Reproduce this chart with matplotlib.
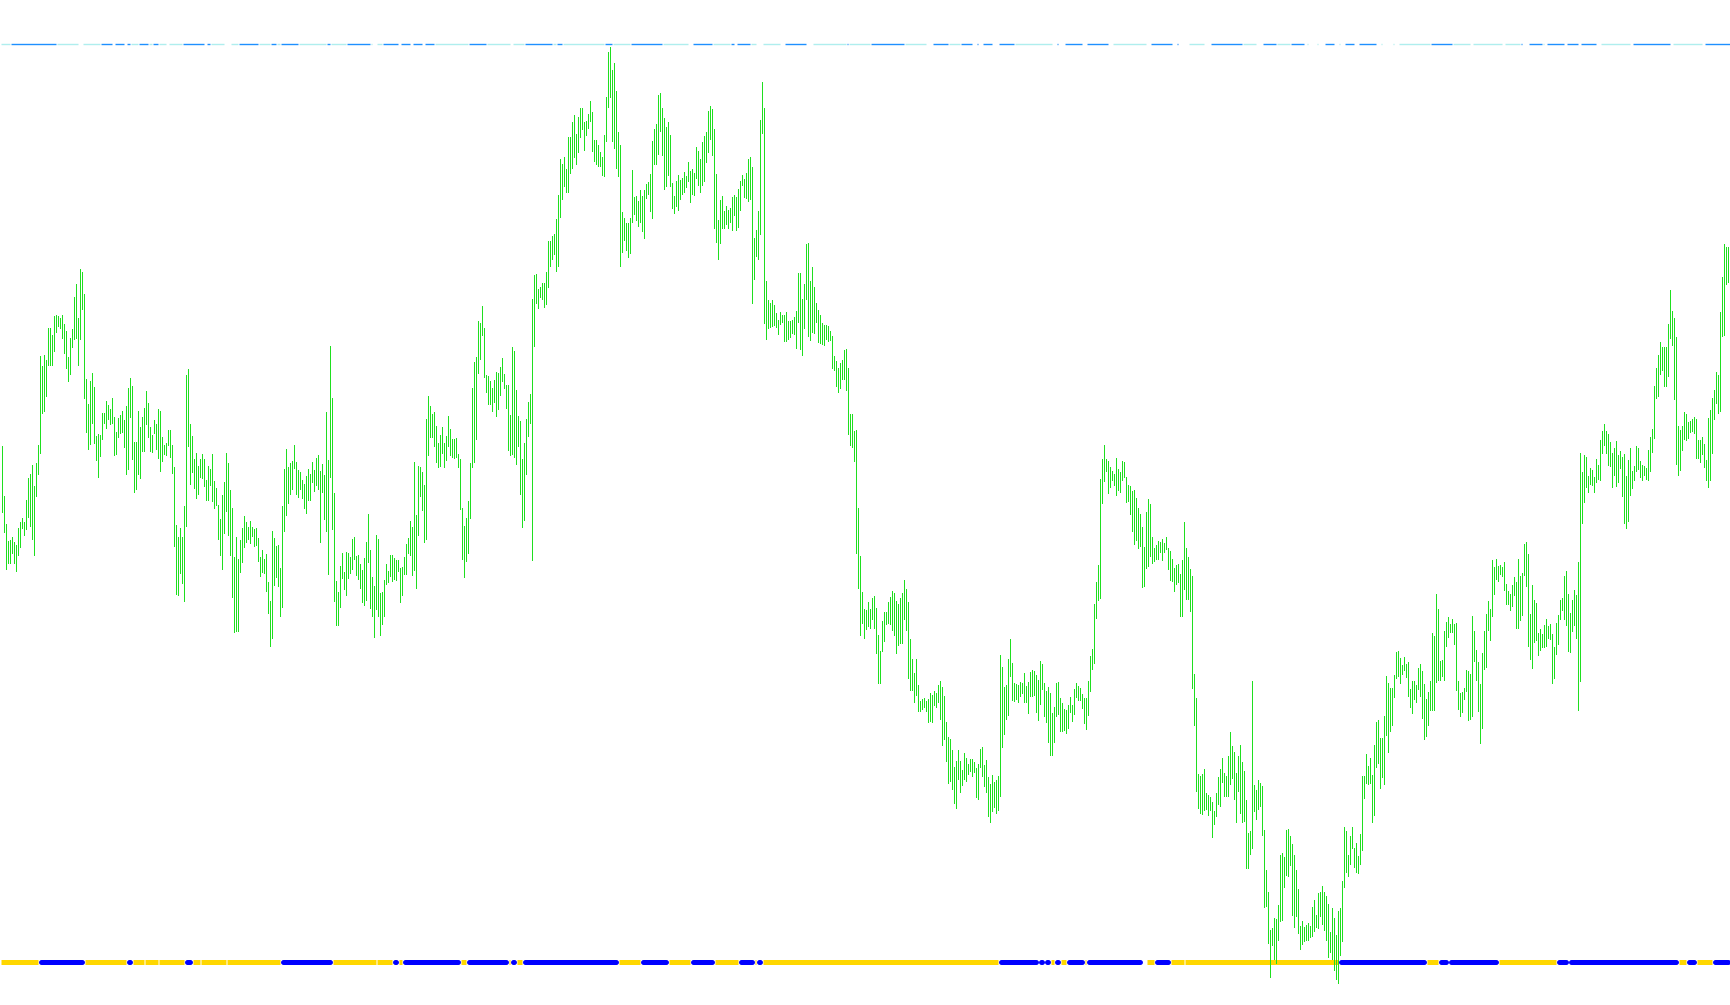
import matplotlib
matplotlib.use('Agg')
import matplotlib.pyplot as plt
import numpy as np

# bar highs / lows (price points), one value per bar, left to right
highs = [
    1677, 1527, 1443, 1392, 1395, 1404, 1389, 1380, 1432, 1449,
    1462, 1449, 1515, 1581, 1593, 1620, 1557, 1627, 1680, 1946,
    1917, 1950, 1936, 2031, 2031, 2010, 2067, 2070, 2067, 2061,
    2070, 2043, 2023, 1944, 2001, 2028, 2125, 2163, 2061, 2207,
    2199, 2133, 1878, 1803, 1872, 1896, 1854, 1707, 1714, 1710,
    1776, 1776, 1812, 1800, 1788, 1821, 1764, 1719, 1761, 1770,
    1782, 1755, 1798, 1851, 1881, 1857, 1689, 1689, 1782, 1734,
    1764, 1791, 1842, 1806, 1734, 1710, 1755, 1743, 1788, 1782,
    1704, 1680, 1687, 1725, 1725, 1680, 1614, 1440, 1404, 1431,
    1404, 1497, 1890, 1908, 1743, 1707, 1638, 1656, 1617, 1638,
    1653, 1638, 1575, 1617, 1608, 1653, 1572, 1551, 1500, 1458,
    1530, 1569, 1656, 1626, 1545, 1491, 1344, 1404, 1338, 1395,
    1431, 1467, 1449, 1434, 1452, 1434, 1428, 1431, 1401, 1344,
    1365, 1338, 1353, 1269, 1212, 1422, 1401, 1377, 1380, 1311,
    1497, 1608, 1668, 1614, 1626, 1632, 1680, 1629, 1605, 1599,
    1575, 1563, 1587, 1608, 1593, 1629, 1605, 1641, 1650, 1602,
    1623, 1590, 1779, 1635, 1977, 1821, 1536, 1272, 1239, 1317,
    1356, 1299, 1359,
    1355, 1344, 1397, 1404, 1348, 1351, 1323, 1306, 1341, 1390,
    1474, 1365, 1285, 1257, 1411, 1397, 1236, 1239, 1274, 1323,
    1302, 1351, 1351, 1341, 1334, 1336, 1312, 1313, 1344, 1383,
    1400, 1453, 1435, 1629, 1470, 1617, 1615, 1600, 1560, 1759,
    1827, 1797, 1773, 1780, 1738, 1687, 1710, 1734, 1685, 1708,
    1767, 1728, 1699, 1697, 1701, 1654, 1637, 1491, 1438, 1461,
    1512, 1627, 1851, 1929, 1944, 2053, 2047, 2097, 2032, 1890,
    1887, 1872, 1850, 1875, 1900, 1896, 1914, 1942, 1893, 1859,
    1859, 1770, 1974, 1963, 1845, 1767, 1753, 1638, 1686, 1759,
    1809, 1833, 2118, 2190, 2194, 2148, 2154, 2166, 2166, 2200,
    2291, 2293, 2306, 2313, 2358, 2431, 2538, 2522, 2545, 2508,
    2604, 2603, 2650, 2671, 2613, 2664, 2691, 2691, 2648, 2653,
    2672, 2711, 2679, 2596, 2594, 2581, 2559, 2545, 2611, 2723,
    2859, 2875, 2805, 2826, 2743, 2620, 2579, 2379, 2361, 2347,
    2347, 2361, 2504, 2424, 2428, 2412, 2445, 2427, 2446, 2463,
    2469, 2494, 2592, 2627, 2642, 2729, 2736, 2692, 2662, 2635,
    2648, 2610, 2466, 2427, 2473, 2490, 2475, 2480, 2499, 2487,
    2529, 2502, 2509,
    2495, 2574, 2562, 2537, 2588, 2607, 2619, 2681, 2697, 2689,
    2628, 2492, 2356, 2415, 2427, 2382, 2398, 2386, 2391, 2424,
    2431, 2424, 2447, 2471, 2489, 2478, 2495, 2537, 2545, 2514,
    2300, 2324, 2382, 2655, 2769, 2692, 2173, 2114, 2107, 2114,
    2100, 2077, 2055, 2079, 2071, 2071, 2078, 2052, 2053, 2055,
    2063, 2082, 2196, 2196, 2119, 2164, 2282, 2286, 2173, 2215,
    2154, 2106, 2085, 2071, 2047, 2039, 2040, 2036, 2023, 2008,
    1947, 1931, 1912, 1927, 1935, 1966, 1969, 1912, 1773, 1773,
    1723, 1726, 1492, 1348, 1238, 1187, 1184, 1209, 1187, 1222,
    1226, 1191, 1111, 1062, 1153, 1179, 1178, 1210, 1223, 1243,
    1235, 1213, 1204, 1220, 1235, 1274, 1249, 1210, 1098, 1038,
    995, 1037, 960, 912, 919, 922, 913, 918, 935, 931,
    941, 935, 961, 973, 954, 928, 848, 804, 797, 766,
    714, 733, 764, 733, 705, 755, 740, 724, 739, 739,
    730, 710, 724, 769, 775, 719, 734, 684, 662, 691,
    669, 676, 687, 1050, 1015, 953, 960, 1037, 1098, 1027,
    967, 964, 960, 969, 967, 995, 958, 969, 998, 1005,
    1001, 990, 974,
    1031, 1023, 966, 942, 954, 936, 877, 894, 966, 969,
    921, 906, 889, 886, 900, 924, 900, 948, 966, 956,
    951, 933, 921, 921, 972, 1047, 1068, 1203, 1269, 1320,
    1579, 1637, 1680, 1637, 1631, 1614, 1602, 1593, 1640, 1608,
    1598, 1632, 1630, 1584, 1559, 1557, 1543, 1545, 1521, 1491,
    1473, 1434, 1373, 1479, 1517, 1503, 1403, 1370, 1379, 1392,
    1389, 1398, 1386, 1404, 1370, 1363, 1338, 1311, 1319, 1322,
    1294, 1336, 1449, 1370, 1344, 1308, 1287, 993, 921, 693,
    688, 693, 707, 635, 629, 624, 609, 583, 636, 684,
    709, 742, 697, 688, 747, 819, 776, 759, 697, 747,
    780, 728, 703, 615, 516, 522, 972, 660, 645, 675,
    665, 656, 525, 406, 339, 224, 230, 262, 259, 301,
    451, 456, 443, 526, 528, 507, 482, 451, 406, 348,
    236, 252, 233, 240, 246, 237, 294, 316, 271, 336,
    340, 358, 340, 327, 303, 220, 292, 262, 210, 282,
    292, 372, 533, 523, 450, 506, 534, 472, 487, 448,
    514, 687, 687, 754, 718, 740, 690, 780, 850, 855,
    802, 802, 868,
    987, 966, 951, 951, 990, 1059, 1062, 1041, 1020, 1044,
    1023, 1029, 948, 972, 972, 960, 1011, 1023, 1002, 963,
    918, 939, 972, 1115, 1107, 1232, 1187, 1032, 1035, 1121,
    1149, 1163, 1142, 1157, 1143, 1145, 973, 937, 939, 951,
    1005, 1002, 993, 1166, 1121, 1065, 1029, 963, 1056, 1121,
    1172, 1211, 1188, 1336, 1315, 1339, 1318, 1321, 1315, 1330,
    1262, 1241, 1233, 1259, 1283, 1269, 1339, 1286, 1296, 1384,
    1390, 1354, 1172, 1259, 1214, 1205, 1116, 1127, 1113, 1140,
    1158, 1137, 1142, 1113, 1075, 1147, 1169, 1215, 1222, 1287,
    1303, 1233, 1176, 1214, 1245, 1229, 1330, 1656, 1599, 1650,
    1645, 1587, 1611, 1605, 1584, 1638, 1620, 1695, 1722, 1743,
    1722, 1713, 1689, 1656, 1671, 1692, 1650, 1662, 1644, 1653,
    1587, 1635, 1671, 1602, 1617, 1677, 1671, 1632, 1620, 1617,
    1611, 1665, 1704, 1728, 1857, 1911, 1950, 1989, 1974, 1974,
    1973, 2042, 2145, 2083, 2062, 2005, 1737, 1725, 1737, 1778,
    1773, 1749, 1752, 1758, 1763, 1758, 1695, 1695, 1704, 1683,
    1635, 1760, 1785, 1821, 1844, 1898, 1890, 2080, 2185, 2282,
    2274, 2274, 2211,
]

lows = [
    1480, 1420, 1307, 1325, 1327, 1357, 1325, 1303, 1349, 1373,
    1432, 1409, 1429, 1465, 1438, 1397, 1351, 1528, 1592, 1655,
    1777, 1781, 1826, 1919, 1919, 1919, 1963, 2018, 2038, 2030,
    2002, 1955, 1910, 1871, 1892, 1973, 1999, 2000, 1919, 1999,
    2089, 1820, 1718, 1667, 1682, 1747, 1685, 1634, 1583, 1646,
    1697, 1745, 1730, 1758, 1742, 1747, 1649, 1654, 1705, 1717,
    1720, 1675, 1592, 1607, 1765, 1637, 1538, 1547, 1592, 1580,
    1663, 1663, 1742, 1705, 1663, 1658, 1715, 1667, 1640, 1603,
    1631, 1652, 1650, 1679, 1643, 1595, 1376, 1232, 1229, 1295,
    1265, 1212, 1438, 1678, 1562, 1600, 1552, 1522, 1532, 1584,
    1582, 1558, 1514, 1514, 1561, 1511, 1490, 1500, 1397, 1349,
    1307, 1415, 1481, 1409, 1349, 1223, 1118, 1121, 1121, 1298,
    1328, 1373, 1388, 1397, 1385, 1406, 1376, 1379, 1331, 1286,
    1298, 1295, 1241, 1175, 1076, 1100, 1259, 1283, 1256, 1166,
    1193, 1421, 1469, 1505, 1532, 1547, 1610, 1532, 1523, 1547,
    1520, 1490, 1475, 1515, 1515, 1568, 1541, 1559, 1547, 1388,
    1538, 1457, 1421, 1292, 1585, 1427, 1211, 1139, 1139, 1193,
    1280, 1247, 1229,
    1280, 1297, 1307, 1339, 1291, 1277, 1252, 1209, 1199, 1216,
    1330, 1192, 1167, 1104, 1188, 1167, 1111, 1143, 1167, 1262,
    1270, 1288, 1271, 1278, 1274, 1302, 1208, 1230, 1293, 1292,
    1355, 1351, 1291, 1304, 1251, 1409, 1528, 1486, 1388, 1397,
    1651, 1703, 1703, 1676, 1628, 1614, 1617, 1656, 1615, 1635,
    1676, 1649, 1645, 1640, 1643, 1614, 1489, 1339, 1283, 1332,
    1355, 1462, 1615, 1630, 1697, 1896, 1938, 2011, 1885, 1840,
    1802, 1802, 1781, 1808, 1767, 1789, 1831, 1871, 1852, 1791,
    1664, 1651, 1652, 1643, 1623, 1677, 1532, 1433, 1455, 1594,
    1706, 1745, 1336, 1976, 2107, 2092, 2123, 2117, 2093, 2104,
    2155, 2217, 2238, 2254, 2201, 2218, 2365, 2419, 2457, 2438,
    2438, 2496, 2510, 2543, 2524, 2560, 2603, 2629, 2565, 2609,
    2631, 2653, 2562, 2533, 2524, 2516, 2516, 2489, 2488, 2592,
    2693, 2725, 2593, 2572, 2512, 2487, 2218, 2259, 2295, 2264,
    2245, 2256, 2350, 2372, 2355, 2338, 2349, 2322, 2302, 2420,
    2434, 2383, 2362, 2523, 2524, 2554, 2622, 2551, 2447, 2457,
    2490, 2456, 2391, 2375, 2397, 2386, 2419, 2433, 2438, 2454,
    2471, 2408, 2432,
    2431, 2481, 2459, 2440, 2460, 2473, 2530, 2558, 2599, 2549,
    2332, 2290, 2239, 2287, 2331, 2331, 2343, 2331, 2350, 2324,
    2369, 2324, 2335, 2386, 2459, 2424, 2420, 2412, 2417, 2107,
    2177, 2248, 2239, 2312, 2617, 2045, 1999, 2031, 2034, 2036,
    2040, 2034, 2014, 2043, 2050, 1991, 1992, 1998, 2004, 2015,
    2014, 1970, 2049, 1969, 1949, 2030, 2117, 2008, 1995, 2018,
    2017, 2049, 1988, 1985, 1982, 1979, 1998, 1992, 1995, 1912,
    1904, 1857, 1838, 1850, 1879, 1877, 1844, 1712, 1681, 1674,
    1633, 1357, 1252, 1111, 1146, 1102, 1127, 1136, 1131, 1159,
    1130, 1057, 966, 967, 1063, 1091, 1143, 1145, 1143, 1126,
    1110, 1056, 1079, 1086, 1085, 1158, 1126, 980, 944, 944,
    909, 929, 881, 883, 889, 894, 883, 849, 851, 849,
    900, 893, 908, 857, 780, 798, 732, 665, 672, 647,
    605, 591, 678, 640, 659, 679, 672, 692, 702, 688,
    700, 625, 617, 714, 687, 657, 640, 566, 548, 582,
    593, 575, 586, 628, 775, 814, 857, 870, 987, 915,
    912, 919, 910, 928, 935, 910, 910, 877, 928, 928,
    931, 878, 854,
    903, 949, 867, 850, 790, 751, 751, 788, 868, 874,
    823, 822, 824, 817, 832, 879, 853, 874, 925, 916,
    916, 892, 845, 827, 871, 943, 1009, 1027, 1161, 1214,
    1220, 1505, 1573, 1601, 1537, 1555, 1576, 1561, 1531, 1544,
    1540, 1574, 1584, 1510, 1511, 1472, 1423, 1382, 1394, 1372,
    1377, 1253, 1257, 1311, 1317, 1347, 1327, 1333, 1338, 1338,
    1360, 1334, 1359, 1367, 1309, 1276, 1272, 1243, 1264, 1270,
    1168, 1168, 1248, 1219, 1217, 1183, 952, 841, 643, 591,
    577, 573, 584, 589, 571, 584, 503, 542, 568, 602,
    597, 669, 628, 627, 628, 663, 682, 619, 548, 641,
    577, 550, 553, 410, 412, 454, 472, 583, 558, 589,
    596, 511, 294, 296, 187, 85, 181, 138, 125, 194,
    253, 255, 355, 389, 386, 421, 269, 235, 266, 216,
    167, 184, 191, 194, 196, 205, 208, 223, 234, 232,
    267, 242, 225, 195, 143, 159, 138, 104, 79, 66,
    149, 193, 355, 400, 388, 423, 472, 414, 399, 396,
    423, 464, 622, 665, 663, 666, 550, 571, 715, 726,
    652, 683, 664,
    810, 758, 823, 839, 925, 982, 988, 967, 992, 1006,
    985, 928, 895, 877, 917, 910, 949, 928, 862, 798,
    806, 839, 885, 886, 885, 970, 974, 975, 988, 975,
    1077, 1103, 1119, 1120, 1082, 946, 889, 867, 880, 919,
    943, 855, 859, 867, 1033, 976, 882, 785, 830, 1009,
    1014, 1124, 1095, 1167, 1233, 1277, 1273, 1292, 1288, 1245,
    1203, 1204, 1185, 1196, 1230, 1131, 1132, 1155, 1170, 1290,
    1258, 1078, 1039, 1012, 1088, 1095, 1049, 1066, 1073, 1073,
    1078, 1101, 1099, 967, 981, 1052, 1083, 1158, 1185, 1157,
    1140, 1062, 1058, 1122, 1140, 1101, 886, 973, 1445, 1508,
    1553, 1540, 1562, 1560, 1540, 1569, 1579, 1575, 1657, 1680,
    1657, 1620, 1617, 1555, 1589, 1558, 1569, 1611, 1527, 1446,
    1430, 1452, 1529, 1550, 1576, 1603, 1608, 1584, 1574, 1590,
    1577, 1575, 1603, 1660, 1702, 1822, 1826, 1893, 1906, 1858,
    1857, 1887, 2000, 1979, 1818, 1624, 1591, 1606, 1665, 1697,
    1696, 1702, 1720, 1722, 1717, 1642, 1640, 1630, 1654, 1614,
    1575, 1555, 1576, 1657, 1758, 1805, 1777, 1782, 2008, 2010,
    2162, 2170, 2114,
]

# top indicator state per run of bars: D = strong, L = weak, N = none
trend_runs = [
    ('L', 5), ('D', 23), ('L', 11), ('N', 2), ('L', 9), ('D', 6), ('N', 1), ('D', 5),
    ('N', 1), ('D', 2), ('L', 4), ('D', 5), ('L', 2), ('D', 3), ('L', 4), ('N', 1),
    ('L', 7), ('D', 11), ('N', 1), ('D', 2), ('L', 7), ('N', 3), ('L', 4), ('D', 10),
    ('L', 6), ('D', 3), ('L', 2), ('D', 9), ('L', 14), ('D', 2), ('L', 8), ('D', 12),
    ('L', 1), ('N', 2), ('L', 3), ('D', 8), ('N', 1), ('D', 5), ('N', 1), ('D', 5),
    ('N', 1), ('D', 5), ('L', 17), ('D', 9), ('L', 12), ('N', 1), ('L', 6), ('D', 14),
    ('L', 2), ('D', 3), ('L', 21), ('D', 4), ('L', 9), ('D', 16), ('L', 13), ('N', 2),
    ('D', 10), ('L', 9), ('D', 2), ('N', 1), ('D', 7), ('L', 3), ('N', 3), ('L', 9),
    ('N', 2), ('D', 11), ('N', 3), ('L', 17), ('D', 1), ('L', 11), ('D', 17), ('L', 11),
    ('N', 3), ('D', 8), ('L', 6), ('D', 6), ('N', 2), ('D', 1), ('N', 2), ('D', 5),
    ('N', 3), ('D', 8), ('L', 19), ('N', 2), ('D', 1), ('N', 3), ('D', 9), ('N', 2),
    ('D', 11), ('N', 2), ('L', 17), ('N', 2), ('D', 11), ('N', 2), ('D', 1), ('N', 5),
    ('L', 8), ('N', 3), ('D', 16), ('L', 7), ('N', 3), ('D', 7), ('L', 7), ('D', 7),
    ('N', 1), ('L', 1), ('N', 4), ('L', 1), ('N', 3), ('D', 5), ('N', 2), ('L', 1),
    ('N', 2), ('D', 5), ('N', 2), ('D', 9), ('N', 2), ('L', 1), ('N', 5), ('L', 1),
    ('N', 2), ('L', 16), ('D', 11), ('L', 9), ('N', 1), ('L', 15), ('N', 1), ('L', 8),
    ('D', 1), ('N', 3), ('D', 7), ('L', 1), ('N', 1), ('D', 9), ('N', 1), ('D', 6),
    ('N', 1), ('D', 8), ('N', 2), ('L', 15), ('N', 1), ('D', 19), ('N', 1), ('L', 15),
    ('N', 1), ('D', 13),
]

# bottom signal state per run of bars: Y = neutral, B = active
signal_runs = [
    ('Y', 19), ('B', 23), ('Y', 21), ('B', 3), ('Y', 6), ('Y', 7), ('Y', 13), ('B', 4),
    ('Y', 4), ('Y', 13), ('Y', 27), ('B', 26), ('Y', 22), ('Y', 8), ('B', 3), ('Y', 2),
    ('B', 29), ('Y', 3), ('B', 21), ('Y', 1), ('B', 3), ('Y', 3), ('B', 48), ('Y', 11),
    ('B', 14), ('Y', 11), ('B', 12), ('Y', 12), ('B', 8), ('Y', 1), ('B', 3), ('Y', 118),
    ('B', 20), ('B', 3), ('B', 3), ('Y', 2), ('B', 3), ('Y', 3), ('B', 9), ('Y', 1),
    ('B', 28), ('N', 2), ('Y', 4), ('B', 8), ('Y', 7), ('Y', 77), ('B', 44), ('Y', 6),
    ('B', 5), ('B', 25), ('Y', 29), ('B', 6), ('B', 55), ('Y', 4), ('B', 5), ('Y', 8),
    ('B', 9),
]

trend_level = 2883
signal_level = 129

trend_colors = {'D': '#1e90ff', 'L': '#afeeee'}
signal_colors = {'Y': '#ffd700', 'B': '#0000ff'}

fig = plt.figure(figsize=(17.3, 10.05), dpi=100)
ax = fig.add_axes([0, 0, 1, 1])
ax.set_axis_off()

n = len(highs)
x = np.arange(n)

# top line
start = 0
for state, count in trend_runs:
    end = start + count - 1
    if state != 'N':
        ax.plot([start - 0.25, end + 0.25], [trend_level, trend_level],
                color=trend_colors[state], lw=1.0, solid_capstyle='butt', zorder=2)
    start += count

# bottom line
start = 0
for state, count in signal_runs:
    end = start + count - 1
    if state == 'Y':
        ax.plot([start - 0.2, end + 0.2], [signal_level, signal_level],
                color=signal_colors[state], lw=3.6, solid_capstyle='butt', zorder=2)
    elif state == 'B':
        a, b = start + 0.75, end - 0.75
        if a > b:
            a = b = (start + end) / 2
        ax.plot([a, b], [signal_level, signal_level],
                color=signal_colors[state], lw=3.6, solid_capstyle='round', zorder=2)
    start += count

# price bars
ax.vlines(x, lows, highs, colors='#1fdf1f', linewidth=0.5, antialiased=False, zorder=3)

ax.set_xlim(-0.75, n - 0.75)
ax.set_ylim(0, 3015)

fig.savefig('out.png', dpi=100, facecolor='white')
